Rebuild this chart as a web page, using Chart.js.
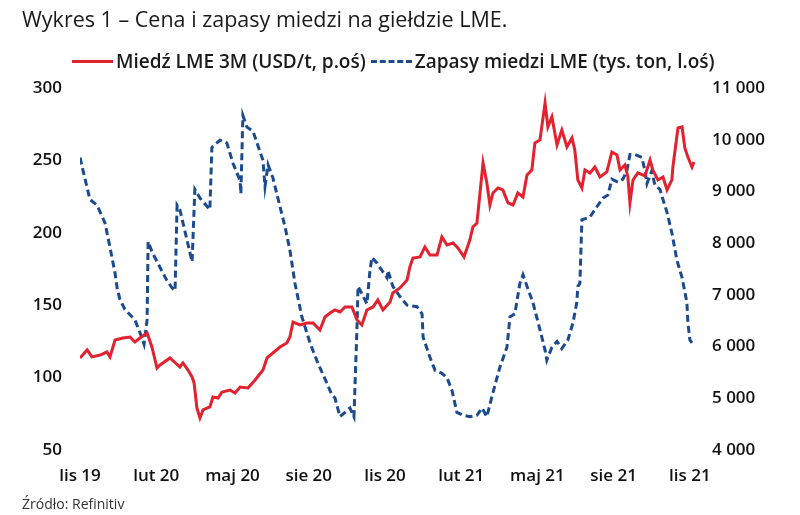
<!DOCTYPE html>
<html>
<head>
<meta charset="utf-8">
<script src="https://cdn.jsdelivr.net/npm/chart.js@4"></script>
<style>
  html, body { margin: 0; padding: 0; background: #fff; }
  body { width: 800px; height: 515px; position: relative; overflow: hidden; font-family: "Open Sans", sans-serif; color: #111; }
  #wrap { position: absolute; left: 0; top: 0; width: 800px; height: 515px; }
  #title { position: absolute; left: 22px; top: 4px; font-size: 21.5px; white-space: nowrap; color: #1a1a1a; }
  #legend { position: absolute; left: 72px; top: 48px; font-size: 19px; font-weight: 600; white-space: nowrap; display: flex; align-items: center; color: #1a1a1a; }
  .sw { display: inline-block; width: 41px; height: 0; margin-right: 3px; }
  .sw.red { border-top: 3px solid #e2222e; }
  .sw.blue { border-top: 3px dashed #1b4a8e; margin-left: 5px; }
  #source { position: absolute; left: 22px; top: 494px; font-size: 14px; color: #333; white-space: nowrap; }
</style>
</head>
<body>
<div id="wrap"><canvas id="c" width="800" height="515"></canvas></div>
<div id="title">Wykres 1 – Cena i zapasy miedzi na giełdzie LME.</div>
<div id="legend"><span class="sw red"></span><span>Miedź LME 3M (USD/t, p.oś)</span><span class="sw blue"></span><span>Zapasy miedzi LME (tys. ton, l.oś)</span></div>
<div id="source">Źródło: Refinitiv</div>
<script>
// x positions are months since November 2019
const tickMonths = [0, 3, 6, 9, 12, 15, 18, 21, 24];
const tickLabels = ["lis 19", "lut 20", "maj 20", "sie 20", "lis 20", "lut 21", "maj 21", "sie 21", "lis 21"];

// LME copper stocks (thousand tonnes, left axis)
const stockMonths = [0,0.12,0.39,0.67,0.98,1.18,1.38,1.46,1.57,1.77,2.16,2.36,2.52,2.64,2.68,2.83,3.15,3.42,3.62,3.74,3.82,3.93,4.21,4.41,4.52,4.72,5.11,5.19,5.51,5.78,6.02,6.30,6.33,6.41,6.57,6.81,7.20,7.28,7.40,7.59,7.87,8.07,8.26,8.46,8.73,9.05,9.36,9.72,9.91,10.03,10.23,10.43,10.62,10.78,10.90,10.94,11.09,11.29,11.41,11.49,11.69,11.88,12.08,12.12,12.31,12.59,12.87,13.26,13.46,13.50,13.77,13.97,14.24,14.44,14.64,14.83,15.07,15.34,15.62,15.82,16.01,16.21,16.41,16.52,16.80,16.92,17.11,17.31,17.43,17.59,17.82,18.10,18.30,18.37,18.57,18.77,18.96,19.20,19.40,19.55,19.59,19.67,19.75,20.07,20.34,20.58,20.77,20.93,21.17,21.36,21.52,21.64,21.84,22.11,22.23,22.31,22.50,22.62,22.82,22.94,23.10,23.29,23.49,23.69,23.88,23.92,24.00,24.08];
const stockValues = [252,243,223,219,207,190,172,162,154,147,140,131,123,140,194,187,176,167,162,160,219,216,195,180,230,224,216,259,264,262,248,236,227,281,273,270,250,232,247,238,218,204,188,165,142,124,110,96,88,86,73,76,79,73,135,163,158,151,174,183,179,174,169,174,163,156,150,149,144,128,114,105,103,100,91,76,74,73,74,79,73,87,100,107,121,142,144,165,171,163,152,133,119,112,121,125,120,126,138,152,163,165,209,211,218,224,226,237,235,237,243,254,254,252,243,234,243,233,230,223,214,200,181,169,152,138,126,124];

// LME 3M copper price (USD/t, right axis)
const priceMonths = [0,0.28,0.47,0.79,1.06,1.18,1.38,1.69,1.97,2.16,2.36,2.64,2.83,3.03,3.15,3.54,3.93,4.05,4.25,4.41,4.49,4.60,4.72,4.84,5.11,5.23,5.43,5.59,5.90,6.10,6.30,6.61,6.89,7.20,7.36,7.59,7.87,8.14,8.26,8.38,8.66,8.93,9.17,9.44,9.64,9.84,10.03,10.23,10.43,10.70,10.90,11.09,11.29,11.53,11.72,11.92,12.20,12.31,12.59,12.87,12.98,13.10,13.38,13.57,13.77,14.05,14.24,14.44,14.68,14.87,15.11,15.34,15.46,15.62,15.74,15.86,16.01,16.13,16.25,16.45,16.64,16.84,17.04,17.23,17.43,17.59,17.78,17.90,18.10,18.30,18.41,18.57,18.77,18.96,19.16,19.36,19.47,19.59,19.75,19.87,20.07,20.26,20.46,20.73,20.93,21.13,21.25,21.44,21.56,21.64,21.76,21.95,22.23,22.43,22.54,22.74,22.94,23.10,23.29,23.33,23.53,23.69,23.80,23.92,24.08,24.16];
const priceValues = [5780,5934,5800,5837,5895,5800,6127,6166,6185,6089,6166,6263,5992,5586,5644,5780,5605,5683,5547,5412,5296,4812,4619,4774,4832,5025,5006,5122,5160,5102,5218,5199,5354,5547,5780,5876,5992,6070,6185,6475,6417,6456,6456,6321,6572,6650,6708,6669,6766,6766,6514,6417,6708,6766,6901,6708,6862,7036,7133,7288,7540,7713,7733,7926,7771,7771,8119,7965,8003,7907,7733,8061,8313,8390,8970,9551,9164,8738,8970,9067,9030,8777,8738,8970,8893,9319,9415,9938,9996,10711,10247,10440,9899,10189,9860,10034,9802,9222,9067,9415,9357,9473,9280,9377,9763,9705,9415,9512,9280,8777,9222,9357,9300,9609,9415,9222,9280,9028,9222,9473,10227,10247,9841,9666,9473,9570];

const toXY = (xs, ys) => xs.map((x, i) => ({ x: x, y: ys[i] }));
const FONT = "'Open Sans', sans-serif";
const TICKFONT = { family: FONT, size: 17, weight: '600' };

new Chart(document.getElementById('c'), {
  type: 'line',
  data: {
    datasets: [
      {
        label: 'Miedź LME 3M (USD/t, p.oś)',
        data: toXY(priceMonths, priceValues),
        yAxisID: 'yR',
        borderColor: '#e2222e',
        borderWidth: 3,
        pointRadius: 0,
        tension: 0,
        fill: false
      },
      {
        label: 'Zapasy miedzi LME (tys. ton, l.oś)',
        data: toXY(stockMonths, stockValues),
        yAxisID: 'yL',
        borderColor: '#1b4a8e',
        borderWidth: 3,
        borderDash: [7, 4],
        pointRadius: 0,
        tension: 0,
        fill: false
      }
    ]
  },
  options: {
    responsive: false,
    animation: false,
    layout: { padding: { top: 88, bottom: 25, left: 0, right: 0 } },
    plugins: { legend: { display: false }, title: { display: false }, tooltip: { enabled: false } },
    scales: {
      x: {
        type: 'linear',
        min: 0,
        max: 24.2,
        grid: { display: false, drawTicks: false },
        border: { display: false },
        afterBuildTicks: (s) => { s.ticks = tickMonths.map(v => ({ value: v })); },
        afterFit: (s) => { s.height = 40; },
        ticks: {
          padding: 16,
          maxRotation: 0,
          autoSkip: false,
          color: '#111',
          font: TICKFONT,
          callback: (v) => { const i = tickMonths.indexOf(v); return i >= 0 ? tickLabels[i] : ''; }
        }
      },
      yL: {
        position: 'left',
        min: 50,
        max: 300,
        grid: { display: false, drawTicks: false },
        border: { display: false },
        afterFit: (s) => { s.width = 80; },
        ticks: { stepSize: 50, padding: 18, color: '#111', font: TICKFONT }
      },
      yR: {
        position: 'right',
        min: 4000,
        max: 11000,
        grid: { display: false, drawTicks: false },
        border: { display: false },
        afterFit: (s) => { s.width = 105; },
        ticks: {
          stepSize: 1000, padding: 17, color: '#111',
          font: TICKFONT,
          callback: (v) => String(v).replace(/\B(?=(\d{3})+(?!\d))/g, ' ')
        }
      }
    }
  }
});
</script>
</body>
</html>
